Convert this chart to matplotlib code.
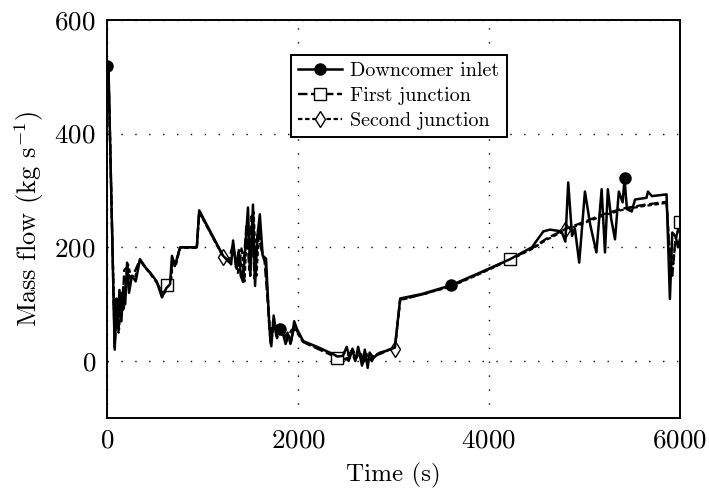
import matplotlib
matplotlib.use("Agg")
import matplotlib.pyplot as plt

plt.rcParams["font.family"] = "cmr10"
plt.rcParams["mathtext.fontset"] = "cm"
plt.rcParams["axes.unicode_minus"] = False
plt.rcParams["axes.formatter.use_mathtext"] = True

# --- data ---
t_dc = [0, 15, 80, 100, 115, 130, 150, 170, 190, 210, 230, 260, 300, 345, 400, 450,
        520, 575, 620, 660, 680, 710, 765, 940, 965, 1215, 1260, 1300, 1320, 1350,
        1380, 1400, 1425, 1450, 1476, 1500, 1528, 1550, 1575, 1600, 1630, 1665, 1700,
        1720, 1745, 1775, 1810, 1840, 1870, 1900, 1930, 1960, 1990, 2055, 2200, 2370,
        2410, 2470, 2510, 2540, 2570, 2600, 2630, 2670, 2700, 2730, 2750, 2790, 2830,
        2860, 2930, 3015, 3070, 3300, 3600, 3900, 4220, 4450, 4570, 4640, 4760, 4800,
        4830, 4870, 4900, 4945, 5005, 5060, 5125, 5180, 5215, 5245, 5280, 5320, 5360,
        5400, 5420, 5445, 5495, 5530, 5650, 5665, 5705, 5860, 5895, 5920, 5955, 5980, 6000]
y_dc = [518, 515, 20, 110, 60, 125, 70, 130, 100, 173, 120, 150, 140, 179, 165, 156,
        140, 112, 128, 135, 185, 167, 200, 200, 265, 185, 178, 170, 212, 165,
        195, 150, 139, 205, 270, 150, 275, 132, 220, 258, 185, 180, 60,
        26, 80, 45, 56, 50, 30, 45, 35, 70, 56, 35, 25, 12,
        8, 9, 25, 5, 20, 0, 25, -8, 20, -12, 15, 5, 12,
        15, 18, 24, 110, 118, 133, 155, 179, 200, 228, 231, 228, 210,
        314, 220, 233, 173, 298, 240, 191, 302, 191, 302, 250, 214, 298,
        279, 321, 267, 263, 284, 287, 298, 290, 293, 109, 226, 219, 200, 215]

t_fj = [0, 15, 80, 100, 120, 140, 160, 180, 210, 240, 270, 345, 400, 450, 520, 580,
        625, 660, 685, 715, 765, 940, 965, 1215, 1270, 1320, 1360, 1390, 1420, 1460,
        1490, 1515, 1545, 1580, 1610, 1650, 1680, 1710, 1740, 1780, 1810, 1850, 1890,
        1920, 1960, 2000, 2060, 2200, 2410, 2480, 2530, 2570, 2610, 2650, 2690, 2720,
        2770, 2820, 2880, 2950, 3015, 3070, 3300, 3600, 3900, 4220, 4450, 4600, 4800,
        5000, 5200, 5400, 5600, 5860, 5890, 5920, 5950, 6000]
y_fj = [518, 515, 25, 95, 50, 115, 85, 160, 165, 145, 150, 178, 165, 155, 138, 120,
        133, 133, 180, 170, 200, 200, 262, 185, 175, 205, 160, 185, 145, 240,
        160, 255, 145, 230, 200, 175, 110, 35, 70, 40, 55, 40, 50,
        30, 60, 50, 33, 22, 6, 15, 0, 22, 5, 18, -5, 15,
        0, 10, 14, 20, 24, 108, 117, 132, 154, 179, 198, 215, 232,
        245, 258, 268, 274, 280, 190, 150, 210, 244]

t_sj = [0, 15, 80, 100, 125, 150, 175, 200, 220, 250, 290, 345, 400, 450, 520, 575,
        630, 670, 690, 720, 765, 940, 965, 1215, 1280, 1330, 1370, 1410, 1440, 1470,
        1500, 1535, 1565, 1595, 1625, 1660, 1690, 1715, 1750, 1790, 1830, 1870, 1910,
        1950, 1990, 2050, 2200, 2400, 2450, 2500, 2550, 2590, 2640, 2680, 2720, 2760,
        2800, 2850, 2920, 3015, 3070, 3300, 3600, 3900, 4220, 4450, 4600, 4800, 5000,
        5200, 5400, 5600, 5860, 5890, 5930, 5960, 6000]
y_sj = [518, 515, 30, 100, 55, 120, 90, 150, 170, 148, 145, 178, 164, 154, 139, 115,
        125, 140, 178, 168, 199, 199, 262, 183, 175, 195, 155, 200, 140, 250,
        150, 262, 150, 240, 190, 170, 95, 30, 65, 45, 52, 38, 48,
        60, 50, 34, 23, 8, 12, 2, 20, 4, 16, -4, 14, 2,
        10, 13, 18, 22, 107, 117, 131, 153, 178, 197, 213, 230, 243,
        256, 266, 272, 278, 200, 170, 225, 230]

# marker positions
mk_dc = [0, 1810, 3600, 5420]
mk_fj = [625, 2410, 4220, 6000]
mk_sj = [1215, 3015, 4800]

fig, ax = plt.subplots(figsize=(7.09, 4.94), dpi=100)
fig.subplots_adjust(left=0.151, right=0.959, bottom=0.154, top=0.960)

ax.plot(t_sj, y_sj, color="black", lw=1.6, ls=(0, (2, 1.2)),
        marker="d", ms=8, mfc="white", mec="black", mew=1.0,
        markevery=[t_sj.index(v) for v in mk_sj], label="Second junction")
ax.plot(t_fj, y_fj, color="black", lw=1.7, ls=(0, (4, 1.5)),
        marker="s", ms=9, mfc="white", mec="black", mew=1.0,
        markevery=[t_fj.index(v) for v in mk_fj], label="First junction")
ax.plot(t_dc, y_dc, color="black", lw=1.8, ls="-",
        marker="o", ms=8, mfc="black", mec="black",
        markevery=[t_dc.index(v) for v in mk_dc], label="Downcomer inlet")

ax.set_xlim(0, 6000)
ax.set_ylim(-100, 600)
ax.set_xticks([0, 2000, 4000, 6000])
ax.set_yticks([0, 200, 400, 600])
ax.grid(True, color="black", ls=(0, (1, 9)), lw=1.0)
ax.tick_params(direction="in", length=0, labelsize=19.5, pad=8)
for s in ax.spines.values():
    s.set_linewidth(1.4)

ax.set_xlabel("Time (s)", fontsize=18, labelpad=7)
ax.set_ylabel(r"Mass flow (kg s$^{-1}$)", fontsize=19, labelpad=6)

h, l = ax.get_legend_handles_labels()
leg = ax.legend(h[::-1], l[::-1], loc="upper left", bbox_to_anchor=(0.321, 0.912),
                borderaxespad=0, fontsize=14.5, fancybox=False, framealpha=1,
                edgecolor="black", handlelength=2.2, handletextpad=0.4,
                borderpad=0.35, labelspacing=0.35)
leg.get_frame().set_linewidth(1.4)

plt.savefig("out.png", dpi=100)
plt.close()
